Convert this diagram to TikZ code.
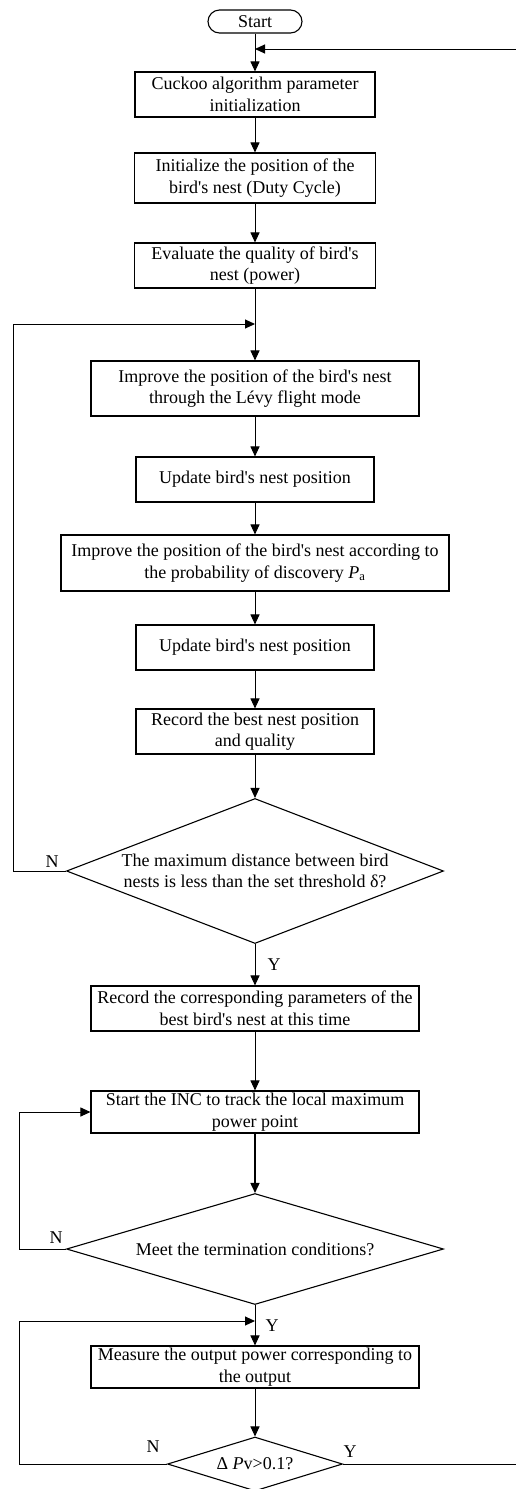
\documentclass[tikz,border=0pt]{standalone}
\usepackage{fontspec}
\setmainfont{Liberation Serif}
\usetikzlibrary{shapes.geometric,arrows.meta}
\newcommand{\ap}{\textquotesingle}
\tikzset{
 box/.style={draw,line width=1.1pt,align=center,inner xsep=2pt,inner ysep=0pt,font=\fontsize{18}{21.6}\selectfont},
 decide/.style={draw,diamond,line width=1.1pt,align=center,inner sep=0pt,font=\fontsize{18}{21.6}\selectfont},
 term/.style={draw,rounded corners=11.5pt,line width=1.1pt,inner sep=0pt,minimum width=94pt,minimum height=23pt,font=\fontsize{18}{21.6}\selectfont},
 arr/.style={line width=1pt,-{Triangle[length=10pt,width=9pt]}},
 lab/.style={font=\fontsize{18}{21.6}\selectfont,inner sep=0pt}
}
\begin{document}
\begin{tikzpicture}[x=1pt,y=-1pt]
 \useasboundingbox (0,0) rectangle (515,1489);
 \node[term] (start) at (255,21.5) {Start};
 \node[box,minimum width=240pt,minimum height=45pt] (init) at (255,94.5) {Cuckoo algorithm parameter\\initialization};
 \node[box,minimum width=241pt,minimum height=50pt] (pos) at (255,178) {Initialize the position of the\\bird\ap s nest (Duty Cycle)};
 \node[box,minimum width=241pt,minimum height=45pt] (eval) at (255,265.5) {Evaluate the quality of bird\ap s\\nest (power)};
 \node[box,minimum width=328pt,minimum height=55pt] (levy) at (255,388.5) {Improve the position of the bird\ap s nest\\through the L\'evy flight mode};
 \node[box,minimum width=238pt,minimum height=45pt] (upd1) at (255,479.5) {Update bird\ap s nest position};
 \node[box,minimum width=388pt,minimum height=56pt] (disc) at (255,563) {Improve the position of the bird\ap s nest according to\\the probability of discovery \textit{P}\textsubscript{a}};
 \node[box,minimum width=238pt,minimum height=45pt] (upd2) at (255,647.5) {Update bird\ap s nest position};
 \node[box,minimum width=238pt,minimum height=45pt] (best) at (255,731.5) {Record the best nest position\\and quality};
 \node[decide,aspect=2.6,minimum width=377pt,minimum height=145pt] (dist) at (255,871) {The maximum distance between bird\\nests is less than the set threshold δ?};
 \node[box,minimum width=328pt,minimum height=45pt] (rec) at (255,1008.5) {Record the corresponding parameters of the\\best bird\ap s nest at this time};
 \node[box,minimum width=328pt,minimum height=42pt] (inc) at (255,1112) {Start the INC to track the local maximum\\power point};
 \node[decide,aspect=3.4,minimum width=377pt,minimum height=111pt] (term) at (255,1249) {Meet the termination conditions?};
 \node[box,minimum width=328pt,minimum height=42pt] (meas) at (255,1367) {Measure the output power corresponding to\\the output};
 \node[decide,aspect=3.2,minimum width=175pt,minimum height=54pt] (dp) at (255,1464) {Δ \textit{P}v>0.1?};
 % junctions on the main axis
 \coordinate (jtop) at (255,49);
 \coordinate (jloop) at (255,324);
 \coordinate (jmeas) at (255,1321);
 % main flow
 \draw[arr] (start) -- (init);
 \draw[arr] (init) -- (pos);
 \draw[arr] (pos) -- (eval);
 \draw[arr] (eval) -- (levy);
 \draw[arr] (levy) -- (upd1);
 \draw[arr] (upd1) -- (disc);
 \draw[arr] (disc) -- (upd2);
 \draw[arr] (upd2) -- (best);
 \draw[arr] (best) -- (dist);
 \draw[arr] (dist) -- (rec);
 \draw[arr] (rec) -- (inc);
 \draw[arr,line width=1.6pt] (inc) -- (term);
 \draw[arr] (term) -- (meas);
 \draw[arr] (meas) -- (dp);
 % loops back
 \draw[arr] (dist.west) -- (13,871) -- (13,324) -- (jloop);
 \draw[arr] (term.west) -- (19,1249) -- (19,1112) -- (inc.west);
 \draw[arr] (dp.west) -- (19,1464) -- (19,1321) -- (jmeas);
 \draw[arr] (dp.east) -- (520,1464) -- (520,49) -- (jtop);
 % labels
 \node[lab] (n1) at (52,862) {N};
 \node[lab] (y1) at (274,965) {Y};
 \node[lab] (n2) at (56,1238) {N};
 \node[lab] (y2) at (272,1326) {Y};
 \node[lab] (n3) at (153,1447) {N};
 \node[lab] (y3) at (350,1452) {Y};
\end{tikzpicture}
\end{document}
